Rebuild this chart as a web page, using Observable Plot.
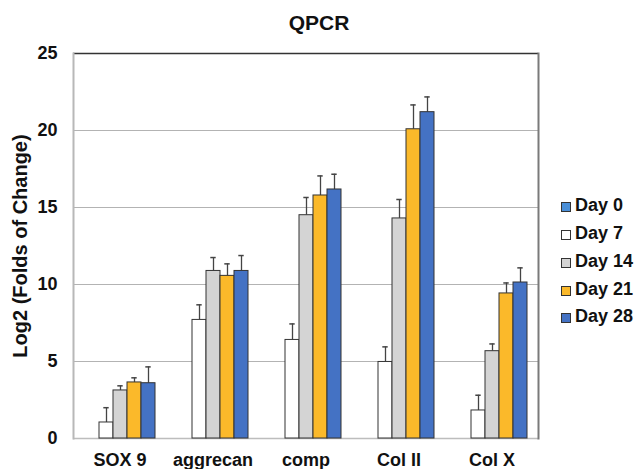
<!DOCTYPE html>
<html>
<head>
<meta charset="utf-8">
<script src="https://cdn.jsdelivr.net/npm/d3@7"></script>
<script src="https://cdn.jsdelivr.net/npm/@observablehq/plot@0.6"></script>
<style>
  html, body { margin: 0; padding: 0; background: #fff; }
  #wrap { position: relative; width: 638px; height: 469px; font-family: "Liberation Sans", Arial, sans-serif; }
  #wrap svg { position: absolute; left: 0; top: 0; }
  #title { position: absolute; left: 0; top: 11px; width: 638px; text-align: center; font-weight: bold; font-size: 21px; line-height: 24px; color: #111; }
  #legend { position: absolute; left: 561px; top: 192px; font-weight: bold; font-size: 18px; color: #111; }
  .row { display: flex; align-items: center; height: 27.75px; }
  .sw { width: 8px; height: 8px; border: 1px solid #333; margin-right: 4px; margin-top: 3px; }
</style>
</head>
<body>
<div id="wrap">
  <div id="title">QPCR</div>
  <div id="legend"></div>
</div>
<script>
const genes = ["SOX 9", "aggrecan", "comp", "Col II", "Col X"];
const days = ["Day 0", "Day 7", "Day 14", "Day 21", "Day 28"];
const dayColors = ["#4a8fd8", "#ffffff", "#d4d4d4", "#fbb92a", "#4472c4"];
const yTicks = [0, 5, 10, 15, 20, 25];
const yLabel = "Log2 (Folds of Change)";

// values per day, in gene order
const day0  = [0, 0, 0, 0, 0];
const day7  = [1.04, 7.70, 6.40, 4.97, 1.82];
const day14 = [3.12, 10.88, 14.50, 14.29, 5.67];
const day21 = [3.64, 10.56, 15.78, 20.08, 9.42];
const day28 = [3.59, 10.88, 16.17, 21.19, 10.13];
// upper error bar lengths
const err0  = [0, 0, 0, 0, 0];
const err7  = [0.96, 0.98, 1.04, 0.98, 0.99];
const err14 = [0.30, 0.87, 1.15, 1.23, 0.47];
const err21 = [0.30, 0.78, 1.27, 1.58, 0.68];
const err28 = [1.06, 1.00, 0.99, 0.99, 0.95];

const vals = [day0, day7, day14, day21, day28];
const errs = [err0, err7, err14, err21, err28];
const data = [];
genes.forEach((g, gi) => days.forEach((d, di) => {
  data.push({gene: g, day: d, value: vals[di][gi], err: errs[di][gi]});
}));
const barData = data.filter(d => d.value > 0);

const chart = Plot.plot({
  width: 638,
  height: 469,
  marginLeft: 72,
  marginRight: 99,
  marginTop: 53,
  marginBottom: 31,
  style: {fontFamily: '"Liberation Sans", Arial, sans-serif', background: "transparent"},
  fx: {domain: genes, padding: 0, label: null},
  x: {domain: days, paddingInner: 0, paddingOuter: 0.756, axis: null},
  y: {domain: [0, 25], axis: null},
  color: {domain: days, range: dayColors},
  marks: [
    Plot.ruleY(yTicks.slice(1, -1), {stroke: "#b3b3b3", strokeWidth: 1.2}),
    Plot.ruleY(yTicks.slice(0, 1), {stroke: "#bdbdbd", strokeWidth: 1.5}),
    Plot.ruleY(yTicks.slice(-1), {stroke: "#333", strokeWidth: 1.5}),
    Plot.frame({anchor: "left", facet: "super", stroke: "#b8b8b8", strokeWidth: 2}),
    Plot.frame({anchor: "right", facet: "super", stroke: "#7a7a7a", strokeWidth: 2}),
    Plot.ruleX(barData, {fx: "gene", x: "day", y1: "value", y2: d => d.value + d.err, stroke: "#444", strokeWidth: 1.3}),
    Plot.tickY(barData, {fx: "gene", x: "day", y: d => d.value + d.err, stroke: "#444", strokeWidth: 1.5, insetLeft: 4.3, insetRight: 4.3}),
    Plot.barY(barData, {fx: "gene", x: "day", y: "value", fill: "day", stroke: "#333", strokeWidth: 1}),
    Plot.axisY({ticks: yTicks, tickSize: 0, tickPadding: 16, fontSize: 18, fontWeight: "bold", label: null, fill: "#111"}),
    Plot.axisFx({anchor: "bottom", tickSize: 0, tickPadding: 15, fontSize: 18, fontWeight: "bold", label: null, fill: "#111"}),
    Plot.text([yLabel], {facet: "super", frameAnchor: "left", rotate: -90, dx: -53, fontSize: 20, fontWeight: "bold", lineAnchor: "middle", textAnchor: "middle", fill: "#111"})
  ]
});
document.getElementById("wrap").prepend(chart);

const legend = document.getElementById("legend");
days.forEach((d, i) => {
  const row = document.createElement("div");
  row.className = "row";
  const sw = document.createElement("div");
  sw.className = "sw";
  sw.style.background = dayColors[i];
  const t = document.createElement("span");
  t.textContent = d;
  row.append(sw, t);
  legend.append(row);
});
</script>
</body>
</html>
